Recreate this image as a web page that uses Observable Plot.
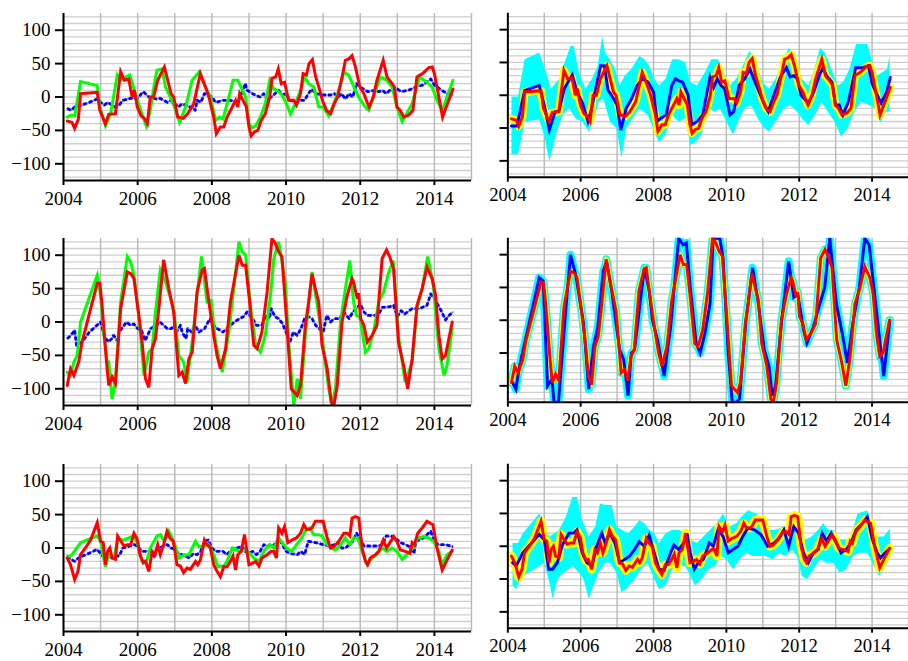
<!DOCTYPE html>
<html><head><meta charset="utf-8">
<script src="https://cdn.jsdelivr.net/npm/d3@7"></script>
<script src="https://cdn.jsdelivr.net/npm/@observablehq/plot@0.6"></script>
<style>
html,body{margin:0;padding:0;background:#fff;overflow:hidden;width:908px;height:661px;}
#wrap{position:relative;width:908px;height:661px;overflow:hidden;background:#fff;}
.p{position:absolute;}
#wrap svg, #wrap svg text{font-family:"Liberation Serif","DejaVu Serif",serif !important;font-size:19px !important;}
</style></head><body><div id="wrap"></div>
<script>
// ---- ticks / grid ----
const yTicks = [-100, -50, 0, 50, 100];
const xTicks = [2004, 2006, 2008, 2010, 2012, 2014];
const yGrid = [-120,-110,-100,-90,-80,-70,-60,-50,-40,-30,-20,-10,0,10,20,30,40,50,60,70,80,90,100,110,120];
const xGrid = [2004,2005,2006,2007,2008,2009,2010,2011,2012,2013,2014,2015];

// ---- row 1 ----
const r1Red = [[2004.10,-36],[2004.23,-38],[2004.30,-47],[2004.40,-33],[2004.46,5],[2004.91,7],[2004.98,-20],[2005.13,-40],[2005.22,-26],[2005.40,-25],[2005.54,38],[2005.64,25],[2005.76,27],[2005.85,0],[2005.91,10],[2005.99,-15],[2006.09,-28],[2006.18,-32],[2006.26,-40],[2006.34,0],[2006.43,0],[2006.54,25],[2006.72,45],[2006.90,5],[2006.97,0],[2007.08,-30],[2007.23,-32],[2007.35,-25],[2007.51,-10],[2007.69,35],[2007.83,15],[2007.92,0],[2008.05,-30],[2008.12,-55],[2008.23,-45],[2008.32,-45],[2008.41,-30],[2008.55,-15],[2008.64,-5],[2008.70,-15],[2008.75,5],[2008.84,-5],[2008.93,-15],[2009.00,-45],[2009.06,-58],[2009.15,-52],[2009.24,-50],[2009.33,-35],[2009.44,-25],[2009.56,0],[2009.62,28],[2009.72,30],[2009.79,42],[2009.87,20],[2009.96,22],[2010.07,-5],[2010.21,-5],[2010.28,-12],[2010.39,5],[2010.46,35],[2010.55,33],[2010.62,50],[2010.71,56],[2010.80,30],[2010.91,10],[2010.98,-5],[2011.09,-20],[2011.20,-25],[2011.30,-10],[2011.39,0],[2011.51,30],[2011.60,55],[2011.69,57],[2011.78,62],[2011.87,45],[2011.99,15],[2012.10,5],[2012.20,-10],[2012.24,-15],[2012.35,0],[2012.45,25],[2012.62,55],[2012.72,30],[2012.86,20],[2012.92,15],[2012.99,-15],[2013.08,-20],[2013.17,-30],[2013.31,-27],[2013.42,-20],[2013.53,30],[2013.70,36],[2013.85,44],[2013.94,45],[2014.00,35],[2014.12,0],[2014.22,-30],[2014.34,-12],[2014.50,12]];
const r1Green = [[2004.10,-30],[2004.21,-27],[2004.30,-28],[2004.46,23],[2004.91,17],[2004.98,-15],[2005.13,-43],[2005.27,-25],[2005.45,33],[2005.54,25],[2005.67,30],[2005.79,33],[2005.94,5],[2006.08,-20],[2006.23,-43],[2006.34,-20],[2006.45,20],[2006.52,40],[2006.66,42],[2006.75,15],[2006.88,0],[2006.99,-15],[2007.13,-38],[2007.29,-15],[2007.47,25],[2007.65,37],[2007.78,20],[2007.96,0],[2008.10,-35],[2008.21,-30],[2008.30,-33],[2008.46,0],[2008.57,25],[2008.70,25],[2008.91,0],[2009.00,-40],[2009.09,-46],[2009.18,-43],[2009.31,-30],[2009.44,-10],[2009.56,25],[2009.67,12],[2009.76,10],[2009.89,3],[2010.01,-10],[2010.12,-25],[2010.25,-10],[2010.39,10],[2010.50,30],[2010.61,20],[2010.75,15],[2010.88,-15],[2011.00,-15],[2011.15,-28],[2011.29,-10],[2011.42,10],[2011.56,37],[2011.69,33],[2011.87,10],[2012.01,-5],[2012.14,-15],[2012.23,-20],[2012.36,0],[2012.54,30],[2012.72,25],[2012.86,15],[2012.99,-15],[2013.13,-37],[2013.25,-25],[2013.40,-10],[2013.60,30],[2013.80,22],[2013.94,15],[2014.07,-5],[2014.21,-20],[2014.34,0],[2014.50,25]];
const r1BlueDash = [[2004.1,-17],[2004.2,-20],[2004.3,-15],[2004.5,-12],[2004.7,-8],[2004.9,-3],[2005.0,-8],[2005.1,-12],[2005.2,-8],[2005.3,-12],[2005.4,-15],[2005.5,-12],[2005.6,-5],[2005.8,-2],[2006.0,-2],[2006.1,5],[2006.15,8],[2006.3,0],[2006.5,-3],[2006.6,-2],[2006.8,-8],[2006.9,-5],[2007.1,-15],[2007.2,-10],[2007.4,-15],[2007.5,-15],[2007.55,-20],[2007.6,-5],[2007.7,-8],[2007.8,5],[2007.9,3],[2008.0,0],[2008.1,-8],[2008.3,-5],[2008.5,-5],[2008.7,-8],[2008.8,5],[2008.9,20],[2008.95,10],[2009.1,5],[2009.2,2],[2009.3,0],[2009.4,5],[2009.5,-5],[2009.6,0],[2009.8,10],[2009.9,3],[2010.0,5],[2010.1,-5],[2010.3,-8],[2010.4,-5],[2010.5,-5],[2010.6,5],[2010.7,12],[2010.8,5],[2011.0,3],[2011.2,3],[2011.3,5],[2011.4,0],[2011.5,5],[2011.6,-3],[2011.7,5],[2011.8,0],[2011.9,20],[2012.0,15],[2012.2,8],[2012.4,10],[2012.5,8],[2012.6,10],[2012.7,5],[2012.8,10],[2012.9,8],[2013.0,12],[2013.1,8],[2013.3,10],[2013.5,15],[2013.7,18],[2013.9,27],[2014.0,18],[2014.2,10],[2014.4,3],[2014.5,3]];
const r1Blue = [[2004.10,-47],[2004.25,-47],[2004.46,7],[2004.86,15],[2005.0,-15],[2005.14,-53],[2005.3,-25],[2005.4,-25],[2005.55,10],[2005.65,20],[2005.77,31],[2005.9,5],[2006.05,-12],[2006.2,-40],[2006.3,-20],[2006.45,20],[2006.55,45],[2006.65,45],[2006.75,8],[2006.9,-5],[2007.0,-15],[2007.1,-53],[2007.25,-20],[2007.4,-5],[2007.55,15],[2007.7,25],[2007.85,20],[2008.0,5],[2008.1,-40],[2008.2,-35],[2008.35,-30],[2008.5,15],[2008.6,25],[2008.7,22],[2008.8,20],[2008.95,0],[2009.05,-45],[2009.2,-40],[2009.35,-30],[2009.55,28],[2009.65,12],[2009.75,25],[2009.85,15],[2009.95,10],[2010.1,-30],[2010.2,-25],[2010.35,15],[2010.5,25],[2010.65,40],[2010.75,25],[2010.9,5],[2011.05,-15],[2011.15,-25],[2011.3,0],[2011.5,30],[2011.65,42],[2011.75,28],[2011.85,30],[2011.95,25],[2012.05,0],[2012.25,-12],[2012.4,5],[2012.55,30],[2012.65,42],[2012.75,30],[2012.9,20],[2013.0,-15],[2013.1,-15],[2013.2,-30],[2013.35,-10],[2013.55,42],[2013.75,42],[2013.9,45],[2014.0,18],[2014.1,5],[2014.25,-12],[2014.4,5],[2014.5,27]];
const r1CyanHi = [[2004.10,-2],[2004.28,-2],[2004.46,55],[2004.86,65],[2005.05,35],[2005.18,10],[2005.41,25],[2005.59,55],[2005.72,75],[2005.81,75],[2005.95,35],[2006.13,10],[2006.31,25],[2006.47,45],[2006.59,90],[2006.67,65],[2006.80,55],[2006.94,40],[2007.07,15],[2007.21,30],[2007.39,40],[2007.61,60],[2007.75,55],[2007.88,45],[2008.02,25],[2008.15,15],[2008.33,25],[2008.51,55],[2008.69,55],[2008.87,50],[2009.01,20],[2009.19,15],[2009.41,35],[2009.59,55],[2009.77,55],[2009.91,35],[2010.09,15],[2010.27,25],[2010.45,45],[2010.63,68],[2010.81,50],[2010.99,20],[2011.17,10],[2011.35,25],[2011.58,55],[2011.71,72],[2011.89,55],[2012.07,25],[2012.25,15],[2012.39,35],[2012.57,72],[2012.70,65],[2012.88,40],[2013.06,15],[2013.20,20],[2013.38,40],[2013.56,78],[2013.87,78],[2014.01,50],[2014.14,30],[2014.28,35],[2014.41,40],[2014.48,60]];
const r1CyanLo = [[2004.10,-90],[2004.28,-90],[2004.46,-40],[2004.86,-37],[2004.99,-60],[2005.14,-100],[2005.32,-60],[2005.50,-30],[2005.68,-20],[2005.86,-35],[2006.04,-40],[2006.22,-55],[2006.35,-40],[2006.49,-10],[2006.62,-5],[2006.80,-40],[2006.98,-50],[2007.12,-95],[2007.25,-50],[2007.43,-35],[2007.61,-20],[2007.84,-30],[2008.02,-55],[2008.15,-72],[2008.33,-60],[2008.51,-30],[2008.69,-40],[2008.87,-35],[2009.01,-75],[2009.14,-72],[2009.32,-60],[2009.50,-20],[2009.68,-25],[2009.82,-20],[2010.00,-40],[2010.18,-60],[2010.32,-40],[2010.50,-20],[2010.68,-15],[2010.86,-35],[2011.04,-50],[2011.17,-55],[2011.35,-40],[2011.58,-20],[2011.76,-15],[2011.94,-25],[2012.07,-35],[2012.25,-45],[2012.43,-30],[2012.61,-10],[2012.79,-25],[2012.97,-40],[2013.15,-63],[2013.33,-50],[2013.51,-25],[2013.69,-10],[2013.92,-15],[2014.10,-20],[2014.23,-42],[2014.37,-25],[2014.48,-25]];

// ---- row 2 ----
const r2Red = [[2004.10,-95],[2004.19,-70],[2004.28,-80],[2004.41,-60],[2004.50,-30],[2004.91,58],[2004.98,58],[2005.04,25],[2005.16,-60],[2005.22,-95],[2005.31,-82],[2005.40,-92],[2005.54,20],[2005.72,75],[2005.82,72],[2005.90,65],[2006.03,10],[2006.12,-30],[2006.21,-85],[2006.30,-98],[2006.39,-40],[2006.48,-25],[2006.57,20],[2006.70,93],[2006.84,50],[2006.97,15],[2007.11,-80],[2007.20,-75],[2007.29,-92],[2007.38,-55],[2007.47,-45],[2007.60,45],[2007.74,78],[2007.80,80],[2007.92,30],[2008.05,-20],[2008.14,-50],[2008.23,-70],[2008.37,-40],[2008.50,30],[2008.73,100],[2008.82,85],[2008.91,85],[2009.00,40],[2009.13,-35],[2009.22,-40],[2009.35,-15],[2009.49,45],[2009.62,125],[2009.71,118],[2009.80,105],[2009.89,98],[2010.03,-10],[2010.14,-100],[2010.30,-110],[2010.39,-95],[2010.52,-5],[2010.61,30],[2010.70,72],[2010.79,50],[2010.88,30],[2010.97,-35],[2011.11,-70],[2011.22,-120],[2011.29,-125],[2011.38,-95],[2011.51,0],[2011.65,40],[2011.78,65],[2011.82,60],[2011.92,35],[2011.96,43],[2012.01,5],[2012.10,-5],[2012.19,-30],[2012.32,-20],[2012.45,-5],[2012.59,95],[2012.71,108],[2012.80,97],[2012.90,80],[2013.03,-30],[2013.17,-65],[2013.28,-100],[2013.40,-55],[2013.53,25],[2013.67,50],[2013.80,82],[2013.94,65],[2014.03,40],[2014.12,-20],[2014.21,-55],[2014.30,-50],[2014.48,0]];
const r2Green = [[2004.10,-75],[2004.19,-80],[2004.28,-60],[2004.37,-50],[2004.46,0],[2004.91,70],[2005.00,40],[2005.09,-20],[2005.18,-60],[2005.22,-60],[2005.31,-115],[2005.40,-90],[2005.54,30],[2005.72,98],[2005.81,90],[2005.90,70],[2006.03,10],[2006.17,-80],[2006.30,-45],[2006.39,-40],[2006.48,15],[2006.61,78],[2006.75,60],[2006.97,20],[2007.11,-50],[2007.24,-60],[2007.33,-90],[2007.47,-30],[2007.60,40],[2007.72,98],[2007.87,30],[2007.98,32],[2008.10,-30],[2008.28,-75],[2008.46,-15],[2008.59,50],[2008.73,120],[2008.82,105],[2008.91,100],[2009.04,25],[2009.18,-35],[2009.31,-45],[2009.44,-20],[2009.58,40],[2009.67,95],[2009.80,120],[2009.98,60],[2010.07,-30],[2010.21,-125],[2010.30,-85],[2010.39,-115],[2010.52,-20],[2010.70,75],[2010.84,25],[2010.97,-20],[2011.15,-100],[2011.24,-125],[2011.33,-100],[2011.47,0],[2011.60,50],[2011.72,92],[2011.82,30],[2011.90,10],[2011.99,8],[2012.14,-45],[2012.23,-40],[2012.36,-15],[2012.50,30],[2012.63,45],[2012.77,75],[2012.89,92],[2013.03,-20],[2013.21,-90],[2013.40,-60],[2013.53,20],[2013.67,50],[2013.82,98],[2013.97,55],[2014.12,-40],[2014.26,-80],[2014.34,-65],[2014.48,-10]];
const r2BlueDash = [[2004.1,-25],[2004.2,-20],[2004.3,-12],[2004.35,-35],[2004.5,-30],[2004.7,-15],[2004.9,-5],[2005.0,0],[2005.1,-20],[2005.2,-30],[2005.3,-25],[2005.35,-20],[2005.45,-28],[2005.5,-15],[2005.7,0],[2005.8,-5],[2005.9,-3],[2006.0,-10],[2006.1,-12],[2006.2,-28],[2006.35,-10],[2006.5,-5],[2006.6,0],[2006.8,-10],[2006.9,-10],[2007.0,-5],[2007.05,-15],[2007.15,-5],[2007.2,-15],[2007.3,-25],[2007.35,-10],[2007.45,-15],[2007.55,-5],[2007.65,-15],[2007.8,-10],[2007.95,5],[2008.05,-5],[2008.15,-10],[2008.3,-15],[2008.45,-8],[2008.6,0],[2008.75,5],[2008.85,8],[2008.95,15],[2009.1,5],[2009.2,-5],[2009.35,-5],[2009.45,10],[2009.55,5],[2009.6,20],[2009.7,8],[2009.8,5],[2009.9,-2],[2010.0,-15],[2010.1,-30],[2010.2,-15],[2010.3,-20],[2010.4,-10],[2010.5,5],[2010.6,8],[2010.7,5],[2010.8,-5],[2010.9,-10],[2011.0,-15],[2011.1,10],[2011.2,0],[2011.3,5],[2011.45,5],[2011.55,15],[2011.7,5],[2011.8,15],[2011.9,20],[2012.0,27],[2012.1,15],[2012.2,10],[2012.4,10],[2012.5,12],[2012.6,22],[2012.8,23],[2012.9,25],[2013.0,8],[2013.1,17],[2013.2,12],[2013.4,20],[2013.5,20],[2013.6,20],[2013.8,25],[2013.9,42],[2014.0,35],[2014.1,25],[2014.2,15],[2014.3,3],[2014.4,10],[2014.5,15]];
const r2Blue = [[2004.13,-95],[2004.22,-105],[2004.32,-70],[2004.86,65],[2004.97,60],[2005.09,-100],[2005.21,-90],[2005.27,-125],[2005.39,-125],[2005.59,15],[2005.72,100],[2005.86,70],[2006.08,-5],[2006.22,-105],[2006.35,-40],[2006.47,-10],[2006.62,75],[2006.71,90],[2006.85,45],[2007.07,-45],[2007.18,-60],[2007.30,-115],[2007.39,-50],[2007.48,-45],[2007.66,40],[2007.75,80],[2007.88,45],[2007.97,0],[2008.11,-30],[2008.29,-85],[2008.47,-10],[2008.69,125],[2008.81,115],[2008.90,118],[2009.01,50],[2009.17,-35],[2009.28,-50],[2009.41,-20],[2009.55,25],[2009.64,125],[2009.82,125],[2009.91,95],[2010.05,-50],[2010.16,-125],[2010.27,-125],[2010.36,-120],[2010.54,0],[2010.72,80],[2010.88,25],[2011.04,-45],[2011.17,-70],[2011.26,-115],[2011.35,-100],[2011.53,5],[2011.71,90],[2011.85,35],[2011.96,40],[2012.12,-15],[2012.21,-35],[2012.39,-10],[2012.54,20],[2012.70,50],[2012.84,125],[2013.02,25],[2013.20,-25],[2013.32,-65],[2013.47,-5],[2013.65,50],[2013.80,125],[2013.92,115],[2014.05,50],[2014.19,-20],[2014.32,-85],[2014.41,-40],[2014.49,0]];

// ---- row 3 ----
const r3Red = [[2004.10,-15],[2004.19,-25],[2004.30,-47],[2004.39,-35],[2004.46,-10],[2004.59,0],[2004.73,12],[2004.91,38],[2005.00,10],[2005.07,8],[2005.13,-25],[2005.19,-5],[2005.25,0],[2005.31,-15],[2005.40,-17],[2005.46,18],[2005.55,10],[2005.63,3],[2005.72,5],[2005.81,5],[2005.90,22],[2005.99,13],[2006.06,-10],[2006.15,-22],[2006.21,-20],[2006.30,-35],[2006.39,-5],[2006.46,-10],[2006.54,5],[2006.61,-10],[2006.70,5],[2006.79,25],[2006.87,15],[2006.96,10],[2007.06,-25],[2007.15,-27],[2007.24,-37],[2007.33,-30],[2007.42,-32],[2007.56,-20],[2007.62,-25],[2007.69,-18],[2007.80,12],[2007.87,5],[2007.96,0],[2008.05,-25],[2008.14,-35],[2008.23,-43],[2008.32,-28],[2008.41,-28],[2008.50,-20],[2008.57,-12],[2008.64,-33],[2008.70,-10],[2008.79,-5],[2008.88,20],[2009.00,-25],[2009.09,-23],[2009.18,-20],[2009.27,-27],[2009.35,-15],[2009.49,-10],[2009.60,-5],[2009.67,-5],[2009.74,-15],[2009.80,30],[2009.89,22],[2009.96,32],[2010.05,8],[2010.16,12],[2010.28,15],[2010.39,22],[2010.48,35],[2010.55,28],[2010.64,28],[2010.70,30],[2010.79,40],[2010.88,40],[2011.00,40],[2011.11,15],[2011.20,0],[2011.29,2],[2011.42,10],[2011.56,22],[2011.65,22],[2011.72,18],[2011.78,45],[2011.87,47],[2011.96,45],[2012.05,0],[2012.14,-20],[2012.20,-25],[2012.27,-15],[2012.41,-10],[2012.50,-5],[2012.62,12],[2012.71,0],[2012.80,8],[2012.90,17],[2012.99,10],[2013.08,-3],[2013.22,-5],[2013.34,-8],[2013.40,8],[2013.46,5],[2013.55,22],[2013.67,30],[2013.80,40],[2013.89,37],[2013.96,35],[2014.07,0],[2014.21,-33],[2014.34,-18],[2014.48,-3]];
const r3Green = [[2004.10,-15],[2004.23,-10],[2004.46,8],[2004.64,12],[2004.91,18],[2005.00,10],[2005.13,-28],[2005.22,-10],[2005.36,-15],[2005.46,12],[2005.63,12],[2005.76,15],[2005.90,18],[2006.00,5],[2006.12,-20],[2006.24,-20],[2006.34,0],[2006.52,18],[2006.61,20],[2006.72,10],[2006.84,25],[2006.97,10],[2007.11,-15],[2007.26,-10],[2007.38,-10],[2007.47,0],[2007.56,10],[2007.65,2],[2007.78,3],[2007.92,5],[2008.05,-10],[2008.16,-28],[2008.32,-27],[2008.41,-20],[2008.55,0],[2008.68,-3],[2008.77,-5],[2008.91,-3],[2009.02,-8],[2009.13,-15],[2009.27,-20],[2009.40,-5],[2009.56,5],[2009.67,0],[2009.80,15],[2009.94,5],[2010.05,-2],[2010.16,-5],[2010.28,5],[2010.39,12],[2010.52,25],[2010.64,30],[2010.75,20],[2010.88,20],[2010.97,18],[2011.11,5],[2011.20,0],[2011.33,-3],[2011.47,5],[2011.60,15],[2011.72,5],[2011.82,15],[2011.93,15],[2012.05,-5],[2012.19,-25],[2012.32,-15],[2012.45,-10],[2012.59,0],[2012.72,-5],[2012.86,0],[2012.99,-5],[2013.13,-17],[2013.26,-10],[2013.42,0],[2013.55,15],[2013.71,17],[2013.85,15],[2013.98,10],[2014.12,-5],[2014.21,-25],[2014.34,-10],[2014.48,-5]];
const r3BlueDash = [[2004.1,-12],[2004.2,-17],[2004.3,-20],[2004.4,-15],[2004.6,-10],[2004.8,-5],[2004.9,-2],[2005.0,-8],[2005.1,-15],[2005.2,-10],[2005.3,-15],[2005.4,-12],[2005.5,-12],[2005.6,0],[2005.8,3],[2005.9,5],[2006.0,3],[2006.1,-5],[2006.3,-5],[2006.4,-5],[2006.45,-15],[2006.5,-3],[2006.7,3],[2006.8,5],[2006.9,0],[2007.0,-2],[2007.1,-8],[2007.2,-10],[2007.4,-15],[2007.5,-8],[2007.6,-10],[2007.7,-5],[2007.8,10],[2007.9,12],[2008.0,0],[2008.1,-5],[2008.3,-5],[2008.4,-10],[2008.5,-5],[2008.6,0],[2008.7,0],[2008.8,3],[2008.9,-5],[2009.0,-8],[2009.1,-5],[2009.2,-10],[2009.3,-5],[2009.4,5],[2009.5,3],[2009.6,5],[2009.7,5],[2009.8,15],[2009.9,5],[2010.0,-5],[2010.1,-8],[2010.3,-10],[2010.4,-5],[2010.5,-10],[2010.6,10],[2010.8,8],[2011.0,5],[2011.2,3],[2011.3,5],[2011.4,8],[2011.5,0],[2011.6,0],[2011.8,10],[2011.9,22],[2012.0,15],[2012.1,3],[2012.3,3],[2012.5,3],[2012.6,5],[2012.7,18],[2012.9,17],[2013.0,12],[2013.1,8],[2013.3,3],[2013.45,-8],[2013.5,10],[2013.7,15],[2013.9,25],[2014.0,10],[2014.1,5],[2014.3,5],[2014.5,2]];
const r3Blue = [[2004.13,-25],[2004.23,-30],[2004.41,-10],[2004.86,18],[2005.00,10],[2005.12,-35],[2005.23,-35],[2005.36,-25],[2005.50,2],[2005.68,20],[2005.81,20],[2005.90,25],[2006.04,-10],[2006.17,-25],[2006.31,-30],[2006.44,0],[2006.58,20],[2006.67,5],[2006.80,20],[2006.94,5],[2007.07,-25],[2007.21,-20],[2007.34,-15],[2007.48,-5],[2007.61,7],[2007.75,0],[2007.88,17],[2008.02,-10],[2008.15,-35],[2008.29,-37],[2008.47,-10],[2008.56,2],[2008.69,-5],[2008.83,5],[2008.92,20],[2009.01,-10],[2009.12,-35],[2009.23,-25],[2009.37,-20],[2009.53,5],[2009.64,0],[2009.77,25],[2009.91,15],[2010.05,-10],[2010.18,-5],[2010.32,0],[2010.45,15],[2010.59,28],[2010.77,25],[2010.95,18],[2011.13,0],[2011.31,5],[2011.44,12],[2011.58,25],[2011.71,0],[2011.85,30],[2011.98,20],[2012.12,-10],[2012.25,-25],[2012.39,-10],[2012.52,-5],[2012.63,20],[2012.75,8],[2012.88,20],[2013.02,5],[2013.15,-10],[2013.29,-5],[2013.42,5],[2013.56,25],[2013.74,35],[2013.87,45],[2014.01,10],[2014.14,-10],[2014.23,-18],[2014.36,-10],[2014.49,-3]];
const r3CyanHi = [[2004.13,5],[2004.28,5],[2004.41,20],[2004.86,50],[2004.95,40],[2005.14,15],[2005.41,25],[2005.59,45],[2005.77,75],[2005.90,75],[2006.04,40],[2006.22,15],[2006.40,30],[2006.53,65],[2006.67,63],[2006.85,63],[2006.98,30],[2007.12,25],[2007.30,20],[2007.48,30],[2007.61,40],[2007.75,35],[2007.88,25],[2008.02,20],[2008.15,5],[2008.33,20],[2008.51,25],[2008.69,25],[2008.87,20],[2009.01,10],[2009.19,5],[2009.37,15],[2009.55,25],[2009.73,35],[2009.91,50],[2010.09,30],[2010.27,35],[2010.41,45],[2010.59,55],[2010.81,50],[2010.99,40],[2011.17,25],[2011.35,25],[2011.58,30],[2011.71,25],[2011.89,45],[2012.03,25],[2012.16,10],[2012.34,15],[2012.52,25],[2012.66,35],[2012.79,25],[2012.93,25],[2013.11,10],[2013.29,10],[2013.42,15],[2013.60,50],[2013.87,55],[2014.01,20],[2014.14,15],[2014.32,15],[2014.49,27]];
const r3CyanLo = [[2004.13,-60],[2004.23,-65],[2004.37,-47],[2004.86,-30],[2005.00,-25],[2005.14,-55],[2005.23,-80],[2005.36,-50],[2005.54,-40],[2005.77,-30],[2005.95,-40],[2006.08,-50],[2006.22,-80],[2006.35,-60],[2006.49,-40],[2006.67,-25],[2006.80,-25],[2006.98,-40],[2007.12,-70],[2007.25,-65],[2007.48,-50],[2007.66,-35],[2007.84,-25],[2008.02,-50],[2008.15,-65],[2008.33,-60],[2008.51,-35],[2008.69,-30],[2008.87,-30],[2009.01,-45],[2009.14,-60],[2009.32,-50],[2009.50,-35],[2009.68,-30],[2009.86,-15],[2010.00,-20],[2010.18,-35],[2010.36,-20],[2010.54,-10],[2010.72,-15],[2010.90,-15],[2011.08,-15],[2011.26,-20],[2011.44,-10],[2011.62,-15],[2011.80,-5],[2011.94,-15],[2012.07,-45],[2012.21,-50],[2012.39,-35],[2012.57,-20],[2012.75,-25],[2012.93,-25],[2013.11,-40],[2013.29,-35],[2013.47,-15],[2013.65,-10],[2013.87,-10],[2014.01,-25],[2014.19,-45],[2014.37,-30],[2014.49,-15]];

// ---- drawing ----
const FONT = "Liberation Serif";
const fmtY = d => d < 0 ? "\u2212" + Math.abs(d) : String(d);
const X = d => d[0], Y = d => d[1];

function panel(o) {
  const marks = [
    Plot.gridY(yGrid, {stroke: "#cfcfcf", strokeOpacity: 1, strokeWidth: 1.3}),
    Plot.gridX(xGrid, {stroke: "#b8b8b8", strokeOpacity: 1, strokeWidth: 1.4})
  ];
  if (o.right) {
    if (o.cyanHi) {
      const poly = o.cyanHi.concat(o.cyanLo.slice().reverse());
      marks.push(Plot.line(poly, {x: X, y: Y, fill: "#00ffff", stroke: "none", clip: true}));
    }
    if (o.cyanW) {
      marks.push(Plot.line(o.blue, {x: X, y: Y, stroke: "#00ffff", strokeWidth: o.cyanW, clip: true}));
      marks.push(Plot.line(o.red, {x: X, y: Y, stroke: "#00ffff", strokeWidth: o.cyanW, clip: true}));
    }
    marks.push(Plot.line(o.red, {x: X, y: Y, stroke: "#ffff00", strokeWidth: o.yellowW, clip: true}));
    marks.push(Plot.line(o.blue, {x: X, y: Y, stroke: "#0000ff", strokeWidth: 3, strokeLinejoin: "miter", strokeMiterlimit: 4, clip: true}));
    marks.push(Plot.line(o.red, {x: X, y: Y, stroke: "#ff0000", strokeWidth: 3, strokeLinejoin: "miter", strokeMiterlimit: 4, clip: true}));
  } else {
    marks.push(Plot.line(o.blueDash, {x: X, y: Y, stroke: "#7070ff", strokeWidth: 1.5, clip: true}));
    marks.push(Plot.line(o.blueDash, {x: X, y: Y, stroke: "#0000ff", strokeWidth: 2.8, strokeDasharray: "4,2", strokeLinecap: "butt", clip: true}));
    marks.push(Plot.line(o.green, {x: X, y: Y, stroke: "#00ff00", strokeWidth: 3, strokeLinejoin: "miter", strokeMiterlimit: 4, clip: true}));
    marks.push(Plot.line(o.red, {x: X, y: Y, stroke: "#ff0000", strokeWidth: 3, strokeLinejoin: "miter", strokeMiterlimit: 4, clip: true}));
  }
  marks.push(Plot.ruleX([2004], {stroke: "black", strokeWidth: 2}));
  marks.push(Plot.ruleY([-125], {stroke: "black", strokeWidth: 2}));
  marks.push(Plot.axisY(yTicks, {tickSize: 8, tickPadding: 5, strokeWidth: 2, stroke: "black", fill: "black",
    fontFamily: FONT, fontSize: 19, tickFormat: o.right ? () => "" : fmtY}));
  marks.push(Plot.axisX(xTicks, {tickSize: 5, tickPadding: 6, strokeWidth: 2, stroke: "black", fill: "black",
    fontFamily: FONT, fontSize: 19, tickFormat: d => String(d)}));
  return Plot.plot({
    width: o.right ? 445 : 471,
    height: 226,
    marginLeft: o.right ? 37 : 63,
    marginRight: 0,
    marginTop: 13,
    marginBottom: 46,
    x: {domain: [2004, 2015]},
    y: {domain: [-125, 125]},
    style: {color: "black", background: "transparent", overflow: "visible", fontFamily: FONT, fontSize: "19px"},
    marks
  });
}

const rows = [
  {top: 0, red: r1Red, green: r1Green, blueDash: r1BlueDash, blue: r1Blue, cyanHi: r1CyanHi, cyanLo: r1CyanLo, yellowW: 8},
  {top: 225, red: r2Red, green: r2Green, blueDash: r2BlueDash, blue: r2Blue, cyanW: 8, yellowW: 5},
  {top: 451, red: r3Red, green: r3Green, blueDash: r3BlueDash, blue: r3Blue, cyanHi: r3CyanHi, cyanLo: r3CyanLo, yellowW: 9}
];
const wrap = document.getElementById("wrap");
for (const r of rows) {
  const L = document.createElement("div"); L.className = "p"; L.style.left = "0px"; L.style.top = r.top + "px";
  L.appendChild(panel({...r, right: false}));
  const R = document.createElement("div"); R.className = "p"; R.style.left = "471px"; R.style.top = r.top + "px";
  R.appendChild(panel({...r, right: true}));
  wrap.appendChild(L); wrap.appendChild(R);
}
</script></body></html>
